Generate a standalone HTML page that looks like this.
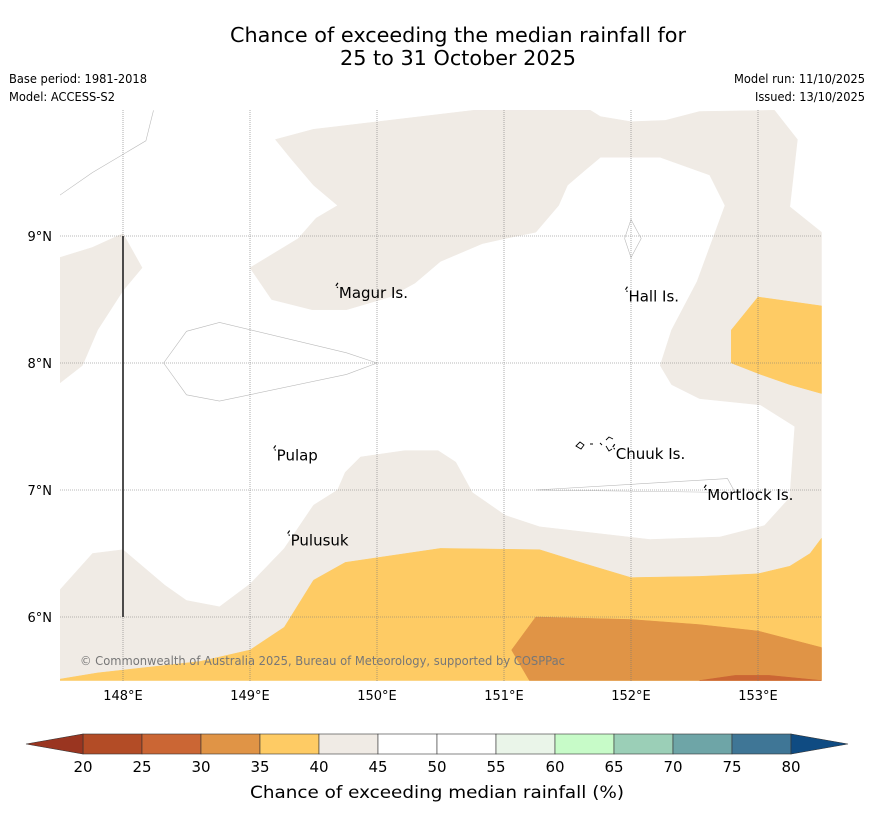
<!DOCTYPE html>
<html><head><meta charset="utf-8"><style>
html,body{margin:0;padding:0;background:#fff;width:873px;height:816px;overflow:hidden}
svg text{font-family:"DejaVu Sans","Liberation Sans",sans-serif;fill:#000}
</style></head><body>
<svg id="chart" width="873" height="816" viewBox="0 0 873 816" xmlns="http://www.w3.org/2000/svg">
<text x="458" y="42" font-size="20" text-anchor="middle" textLength="456" lengthAdjust="spacingAndGlyphs">Chance of exceeding the median rainfall for</text>
<text x="458" y="65" font-size="20" text-anchor="middle" textLength="236" lengthAdjust="spacingAndGlyphs">25 to 31 October 2025</text>
<text x="9" y="83" font-size="12" textLength="138" lengthAdjust="spacingAndGlyphs">Base period: 1981-2018</text>
<text x="9" y="101" font-size="12" textLength="106" lengthAdjust="spacingAndGlyphs">Model: ACCESS-S2</text>
<text x="865" y="83" font-size="12" text-anchor="end" textLength="131" lengthAdjust="spacingAndGlyphs">Model run: 11/10/2025</text>
<text x="865" y="101" font-size="12" text-anchor="end" textLength="110" lengthAdjust="spacingAndGlyphs">Issued: 13/10/2025</text>
<defs><clipPath id="mapclip"><rect x="60" y="110" width="762" height="571"/></clipPath></defs>
<g id="map" clip-path="url(#mapclip)"></g>
<g id="axes"></g>
<g id="cbar"></g>
<text x="437" y="798" font-size="17" text-anchor="middle" textLength="374" lengthAdjust="spacingAndGlyphs">Chance of exceeding median rainfall (%)</text>
</svg>
<script>
// Axis domains
const lonTicks = [148,149,150,151,152,153];
const latTicks = [9,8,7,6];
const lonTickLabels = ["148°E","149°E","150°E","151°E","152°E","153°E"];
const latTickLabels = ["9°N","8°N","7°N","6°N"];
// Contour bands (lon, lat pairs)
const band40_45_main = [[149.20,9.76],[149.50,9.84],[150.76,9.99],[151.68,9.99],[151.76,9.94],[152.00,9.90],[152.27,9.91],[152.54,9.98],[153.13,9.99],[153.31,9.76],[153.25,9.23],[153.50,9.03],[153.50,5.50],[147.50,5.50],[147.50,6.21],[147.76,6.50],[148.00,6.53],[148.33,6.25],[148.50,6.13],[148.76,6.08],[149.00,6.26],[149.27,6.54],[149.50,6.88],[149.69,7.00],[149.75,7.14],[149.87,7.26],[150.22,7.31],[150.48,7.31],[150.62,7.22],[150.75,6.98],[151.01,6.80],[151.28,6.71],[152.15,6.61],[152.70,6.63],[153.05,6.72],[153.25,6.94],[153.29,7.50],[153.02,7.67],[152.54,7.72],[152.32,7.83],[152.23,7.98],[152.32,8.26],[152.52,8.64],[152.74,9.24],[152.62,9.48],[152.23,9.62],[151.76,9.62],[151.64,9.52],[151.50,9.40],[151.43,9.24],[151.25,9.03],[151.01,8.98],[150.83,8.94],[150.50,8.80],[150.30,8.63],[150.10,8.52],[149.76,8.42],[149.49,8.42],[149.17,8.50],[149.00,8.75],[149.38,8.98],[149.52,9.14],[149.69,9.24],[149.50,9.40],[149.33,9.60]];
const band40_45_west = [[147.50,8.83],[147.76,8.91],[148.00,9.02],[148.15,8.75],[148.00,8.57],[147.80,8.26],[147.68,7.98],[147.50,7.84]];
const band35_40_south = [[147.50,5.50],[147.50,5.51],[147.80,5.56],[148.61,5.65],[149.00,5.74],[149.27,5.92],[149.50,6.29],[149.75,6.43],[150.50,6.54],[151.28,6.53],[151.60,6.43],[152.00,6.31],[152.54,6.32],[153.00,6.34],[153.25,6.40],[153.41,6.50],[153.50,6.62],[153.50,5.50]];
const band35_40_east = [[152.79,8.26],[153.00,8.52],[153.50,8.45],[153.50,7.76],[153.25,7.83],[153.02,7.91],[152.79,8.00]];
const band30_35 = [[151.06,5.74],[151.25,6.00],[152.00,5.98],[152.54,5.94],[153.00,5.89],[153.50,5.76],[153.50,5.50],[151.20,5.50]];
const band25_30 = [[152.54,5.50],[152.82,5.54],[153.09,5.54],[153.50,5.50]];
const contourLines = [
  [[147.50,9.32],[147.76,9.50],[148.18,9.75],[148.24,9.99]],
  [[148.32,8.00],[148.50,8.25],[148.76,8.32],[149.76,8.08],[150.00,8.00],[149.76,7.91],[148.76,7.70],[148.50,7.75],[148.32,8.00]],
  [[151.95,8.98],[152.00,9.13],[152.08,8.98],[152.00,8.83],[151.95,8.98]],
  [[151.25,7.00],[152.76,7.09],[152.82,6.98],[151.25,7.00]]
];
const placeNames = ["Magur Is.","Hall Is.","Pulap","Chuuk Is.","Mortlock Is.","Pulusuk"];
const placeLon = [149.70,151.98,149.21,151.88,152.60,149.32];
const placeLat = [8.56,8.53,7.28,7.29,6.97,6.61];
// Colorbar
const cbarLevels = [20,25,30,35,40,45,50,55,60,65,70,75,80];
const cbarColors = ["#b34c26","#cb6634","#e09446","#fecb64","#f0ebe5","#ffffff","#ffffff","#eaf5e9","#c7fbc8","#9bcfb7","#6ea5a7","#3f7696"];
const cbarUnder = "#9a3520", cbarOver = "#0f4b82";

const NS="http://www.w3.org/2000/svg";
const X0=60,X1=822,Y0=110,Y1=681;
const xScale = lon => 123 + (lon-148)*127;
const yScale = lat => 236 - (lat-9)*127;
function mk(tag, attrs, parent){const e=document.createElementNS(NS,tag);for(const k in attrs)e.setAttribute(k,attrs[k]);parent.appendChild(e);return e;}
const ptsStr = arr => arr.map(p=>xScale(p[0]).toFixed(1)+","+yScale(p[1]).toFixed(1)).join(" ");
const map=document.getElementById('map'), axes=document.getElementById('axes'), cbar=document.getElementById('cbar');

let bg=mk('rect',{x:X0,y:Y0,width:X1-X0,height:Y1-Y0,fill:'#fff'},map);


const bands=[[band40_45_main,'#f0ebe5','band-40-45'],[band40_45_west,'#f0ebe5','band-40-45-west'],[band35_40_south,'#fecb64','band-35-40'],[band35_40_east,'#fecb64','band-35-40-east'],[band30_35,'#e09446','band-30-35'],[band25_30,'#cb6634','band-25-30']];
bands.forEach(b=>{
  const p=mk('polygon',{points:ptsStr(b[0]),fill:b[1],stroke:b[1],'stroke-width':0.5},map);
  
  
});
contourLines.forEach(c=>{
  const l=mk('polyline',{points:ptsStr(c),fill:'none',stroke:'#bbb','stroke-width':0.6},map);
  
  
});
// gridlines
lonTicks.forEach((lon,i)=>{
  const g=mk('line',{x1:xScale(lon),x2:xScale(lon),y1:Y0,y2:Y1,stroke:'#777','stroke-width':0.6,'stroke-dasharray':'1,1'},map);
  
  
  const t=mk('text',{x:xScale(lon),y:700,'font-size':13,'text-anchor':'middle'},axes);
  t.textContent=lonTickLabels[i];
  
  
});
latTicks.forEach((lat,i)=>{
  const g=mk('line',{x1:X0,x2:X1,y1:yScale(lat),y2:yScale(lat),stroke:'#777','stroke-width':0.6,'stroke-dasharray':'1,1'},map);
  
  
  const t=mk('text',{x:52,y:yScale(lat)+5,'font-size':13,'text-anchor':'end'},axes);
  t.textContent=latTickLabels[i];
  
  
});
const vline=mk('line',{x1:xScale(148),x2:xScale(148),y1:yScale(9),y2:yScale(6),stroke:'#222','stroke-width':1.6},map);


placeNames.forEach((n,i)=>{
  const x=xScale(placeLon[i]), y=yScale(placeLat[i]);
  const m=mk('path',{d:`M${x-3},${y-6} l2,-3 M${x-2},${y-5} l1,1`,stroke:'#000','stroke-width':1.2,fill:'none'},map);
  
  
  const t=mk('text',{x:x,y:y+6,'font-size':15},map);
  t.textContent=n;
  
  
});
const chuuk=mk('path',{d:'M576,446 l4,-4 l4,3 l-3,4z M590,444 l3,0 M600,443 l2,2 M606,440 l3,-3 l4,2 M606,446 l3,5 l3,-2',stroke:'#000','stroke-width':0.9,fill:'none'},map);


const cr=mk('text',{x:80,y:665,'font-size':12,textLength:485,lengthAdjust:'spacingAndGlyphs'},map);
cr.setAttribute('style','fill:#777');
cr.textContent='© Commonwealth of Australia 2025, Bureau of Meteorology, supported by COSPPac';



// Colorbar
const cbX0=83, cbX1=791, cbY=734, cbH=20;
const cScale = v => cbX0 + (v-cbarLevels[0])/(cbarLevels[cbarLevels.length-1]-cbarLevels[0])*(cbX1-cbX0);
cbarColors.forEach((c,i)=>{
  const r=mk('rect',{x:cScale(cbarLevels[i]),y:cbY,width:cScale(cbarLevels[i+1])-cScale(cbarLevels[i]),height:cbH,fill:c,stroke:'#333','stroke-width':0.6},cbar);
  
  
});
const ul=mk('polygon',{points:`${cbX0},${cbY} ${cbX0},${cbY+cbH} 26,${cbY+cbH/2}`,fill:cbarUnder,stroke:'#333','stroke-width':0.6},cbar);


const ov=mk('polygon',{points:`${cbX1},${cbY} ${cbX1},${cbY+cbH} 848,${cbY+cbH/2}`,fill:cbarOver,stroke:'#333','stroke-width':0.6},cbar);


cbarLevels.forEach(v=>{
  const t=mk('text',{x:cScale(v),y:772,'font-size':15,'text-anchor':'middle'},cbar);
  t.textContent=v;
  
  
});
</script>
</body></html>
